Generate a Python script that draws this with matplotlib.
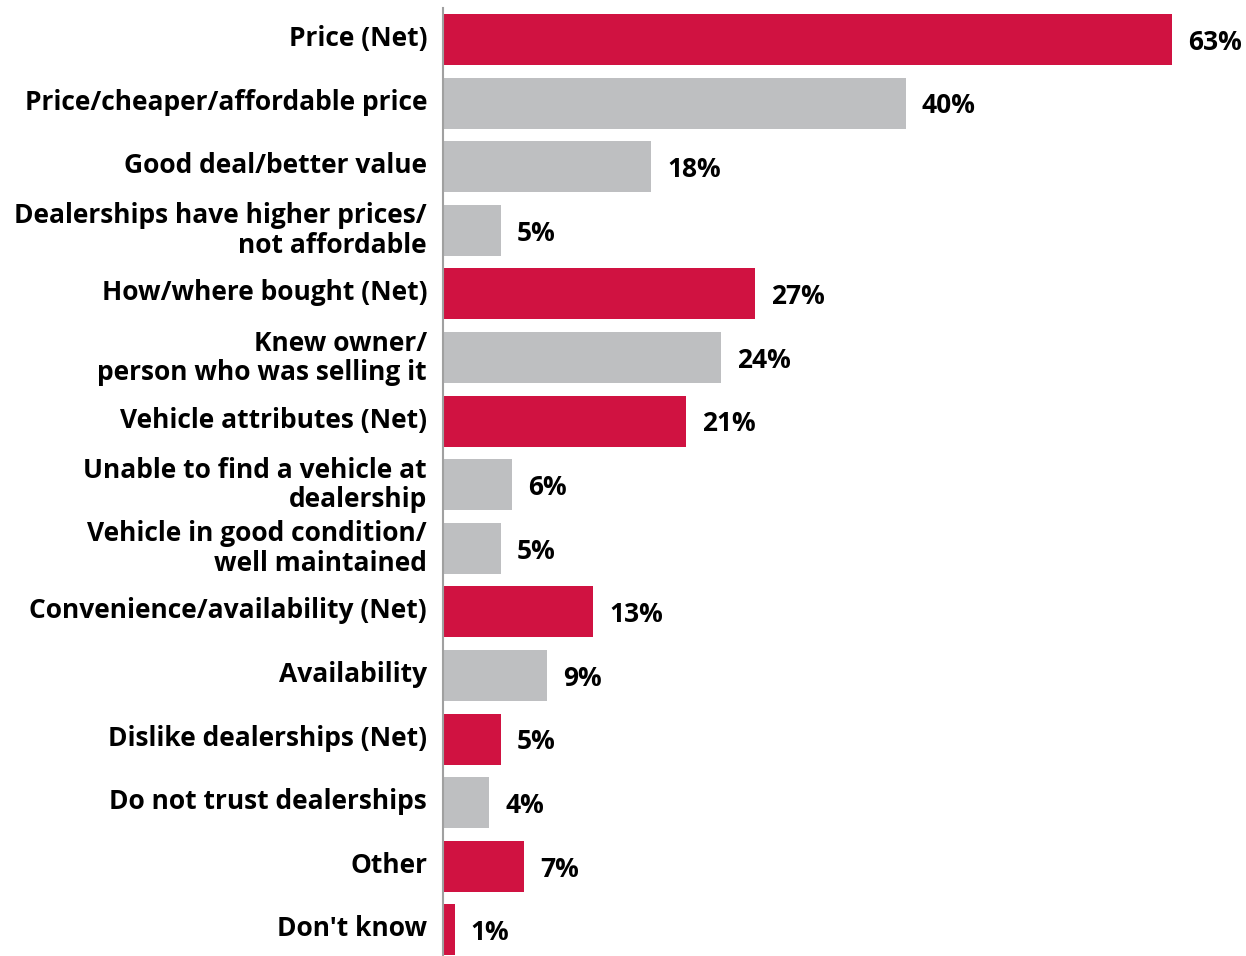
import matplotlib
matplotlib.use("Agg")
import matplotlib.pyplot as plt
import matplotlib.transforms as mtransforms

categories = [
    "Price (Net)",
    "Price/cheaper/affordable price",
    "Good deal/better value",
    "Dealerships have higher prices/\nnot affordable",
    "How/where bought (Net)",
    "Knew owner/\nperson who was selling it",
    "Vehicle attributes (Net)",
    "Unable to find a vehicle at\ndealership",
    "Vehicle in good condition/\nwell maintained",
    "Convenience/availability (Net)",
    "Availability",
    "Dislike dealerships (Net)",
    "Do not trust dealerships",
    "Other",
    "Don't know",
]
values = [63, 40, 18, 5, 27, 24, 21, 6, 5, 13, 9, 5, 4, 7, 1]
is_net = [True, False, False, False, True, False, True, False, False, True, False, True, False, True, True]

RED = "#D01241"
GRAY = "#BEBFC1"
FONT = "Open Sans"

W, H = 1246, 956
fig = plt.figure(figsize=(W / 100, H / 100), dpi=100)
left_px, right_px, top_px, bottom_px = 443, 1246, 8, 956
ax = fig.add_axes([left_px / W, 1 - bottom_px / H, (right_px - left_px) / W, (bottom_px - top_px) / H])

px_per_unit = (1172 - 443) / 63.0
xmax = (right_px - left_px) / px_per_unit
spacing = 63.6
c0 = 39.5
ytop = -(c0 - top_px) / spacing
ybot = (bottom_px - c0) / spacing

colors = [RED if n else GRAY for n in is_net]
ypos = list(range(len(categories)))
ax.barh(ypos, values, height=0.8, color=colors, zorder=2)
ax.set_xlim(0, xmax)
ax.set_ylim(ybot, ytop)

for y, v in zip(ypos, values):
    ax.annotate(f"{v}%", xy=(v, y), xytext=(11.5, -2), textcoords="offset points",
                ha="left", va="center", fontsize=19, fontweight="bold",
                family=FONT, color="black")

ax.set_yticks(ypos)
ax.set_yticklabels(categories, fontsize=19, fontweight="bold", family=FONT,
                   linespacing=1.12)
ax.tick_params(axis="y", length=0, pad=11.5)
shift = mtransforms.ScaledTranslation(0, 4 / 100, fig.dpi_scale_trans)
for lbl in ax.get_yticklabels():
    lbl.set_transform(lbl.get_transform() + shift)
ax.set_xticks([])
for s in ["top", "right", "bottom"]:
    ax.spines[s].set_visible(False)
ax.spines["left"].set_color("#A0A0A0")
ax.spines["left"].set_linewidth(1.5)

fig.savefig("out.png", dpi=100)
